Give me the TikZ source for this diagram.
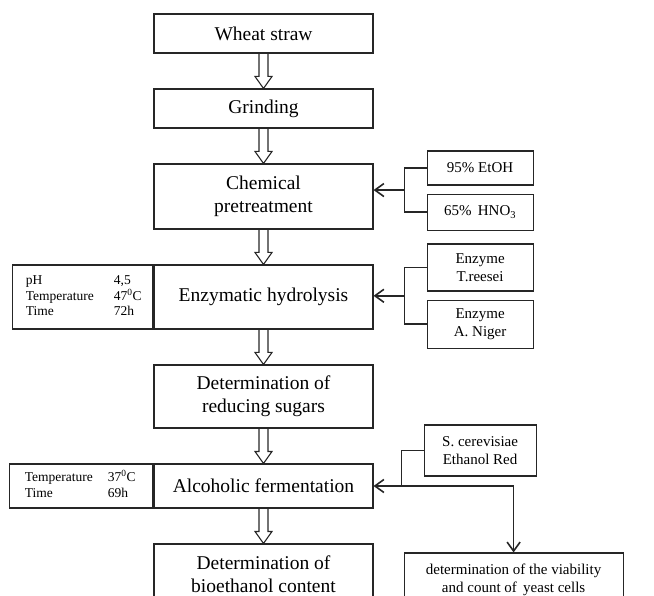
\documentclass[tikz,border=0pt]{standalone}
\usepackage{fontspec}
\setmainfont{Liberation Serif}
\usetikzlibrary{positioning, calc, arrows.meta}

\tikzset{
    stage/.style={
        rectangle,
        minimum width=219pt,
        align=center,
        draw=black!85,
        line width=1.1pt,
        font=\fontsize{19.5}{23}\selectfont
    },
    params/.style={
        rectangle,
        inner xsep=0pt,
        draw=black!85,
        line width=1.1pt,
        font=\fontsize{13.5}{15.5}\selectfont
    },
    reagent/.style={
        rectangle,
        inner sep=0pt,
        align=center,
        draw=black!85,
        line width=1.1pt,
        font=\fontsize{15}{18}\selectfont
    },
    branch/.style={line width=1.6pt, draw=black!85},
    arrow/.style={branch, -{Straight Barb[length=9pt,width=13pt]}},
    twoway/.style={branch, {Straight Barb[length=9pt,width=13pt]}-{Straight Barb[length=9pt,width=13pt]}},
    hollow/.style={
        line width=1.1pt,
        draw=black!85,
        to path={let \p1=(\tikztostart), \p2=(\tikztotarget) in
            (\x1-4.5pt,\y1) -- (\x1-4.5pt,\y2+12pt) -- (\x1-8.5pt,\y2+12pt)
            -- (\x1,\y2) -- (\x1+8.5pt,\y2+12pt) -- (\x1+4.5pt,\y2+12pt)
            -- (\x1+4.5pt,\y1)}
    }
}

\begin{document}
\begin{tikzpicture}[node distance=34.9pt]

\clip (0,0) rectangle (654pt,-596pt);

% main column
\node (wheat) [stage, minimum height=39pt] at (263.5pt,-33.5pt) {Wheat straw};
\node (grind) [stage, minimum height=39pt, below=of wheat] {Grinding};
\node (chem) [stage, minimum height=65pt, below=of grind] {Chemical\\pretreatment};
\node (enz) [stage, minimum height=64pt, below=of chem] {Enzymatic hydrolysis};
\node (sugar) [stage, minimum height=63pt, below=of enz] {Determination of\\reducing sugars};
\node (alc) [stage, minimum height=44pt, below=of sugar] {Alcoholic fermentation};
\node (bio) [stage, minimum height=60pt, below=of alc] {Determination of\\bioethanol content};

% conditions on the left
\node (enzcond) [params, left=0pt of enz, minimum width=140pt, minimum height=64pt]
{\begin{tabular}{@{}p{88pt}@{}p{26pt}@{}}
pH & 4,5\\
Temperature & 47\textsuperscript{0}C\\
Time & 72h
\end{tabular}};
\node (alccond) [params, left=0pt of alc, minimum width=143pt, minimum height=44pt]
{\begin{tabular}{@{}p{83pt}@{}p{30pt}@{}}
Temperature & 37\textsuperscript{0}C\\
Time & 69h
\end{tabular}};

% inputs on the right
\node (etoh) [reagent, minimum width=106pt, minimum height=34pt, anchor=north west]
at ($(chem.north east)+(53pt,13pt)$) {95\% EtOH};
\node (hno) [reagent, minimum width=106pt, minimum height=36pt, below=8pt of etoh]
{65\%\, HNO\textsubscript{3}};
\node (reesei) [reagent, minimum width=106pt, minimum height=47pt, anchor=north west]
at ($(enz.north east)+(53pt,21pt)$) {Enzyme\\T.reesei};
\node (niger) [reagent, minimum width=106pt, minimum height=48pt, below=8pt of reesei]
{Enzyme\\A. Niger};
\node (cerev) [reagent, minimum width=112pt, minimum height=51pt, anchor=north west]
at ($(alc.north east)+(50pt,39pt)$) {S. cerevisiae\\Ethanol Red};
\node (yeast) [reagent, minimum width=219pt, minimum height=54pt, anchor=north west]
at ($(bio.north east)+(30pt,-9pt)$) {determination of the viability\\and count of\, yeast cells};

% hollow arrows
\draw [hollow] (wheat.south) to (grind.north);
\draw [hollow] (grind.south) to (chem.north);
\draw [hollow] (chem.south) to (enz.north);
\draw [hollow] (enz.south) to (sugar.north);
\draw [hollow] (sugar.south) to (alc.north);
\draw [hollow] (alc.south) to (bio.north);

% side connectors
\coordinate (chemfork) at ($(etoh.west)!0.5!(hno.west)+(-22pt,0)$);
\draw [branch] (etoh.west) -| (chemfork) |- (hno.west);
\draw [arrow] (chemfork) -- (chemfork -| chem.east);

\coordinate (enzfork) at ($(reesei.west)!0.5!(niger.west)+(-22pt,0)$);
\draw [branch] (reesei.west) -| (enzfork) |- (niger.west);
\draw [arrow] (enzfork) -- (enzfork -| enz.east);

\coordinate (cerevfork) at ($(cerev.west)+(-22pt,0)$);
\draw [branch] (cerev.west) -| (cerevfork |- alc.east);
\draw [twoway] (alc.east) -| (yeast.north);

\end{tikzpicture}
\end{document}
